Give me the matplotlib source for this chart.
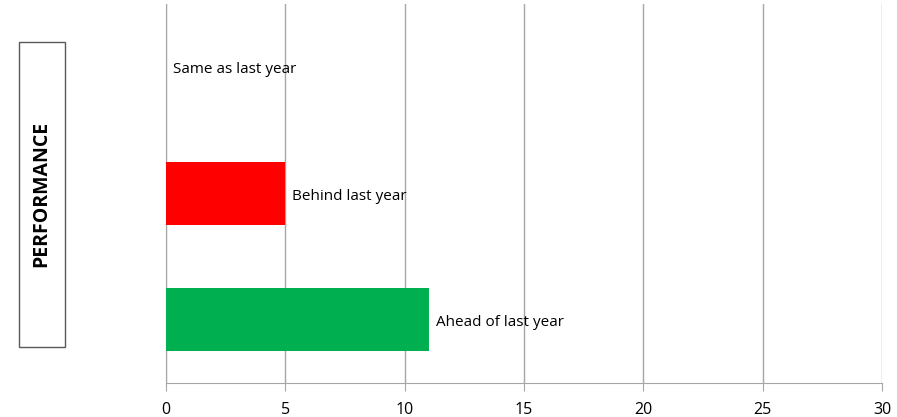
import matplotlib.pyplot as plt
from matplotlib.patches import Rectangle

categories = ['Ahead of last year', 'Behind last year', 'Same as last year']
values = [11, 5, 0]
colors = ['#00B050', '#FF0000', '#FFFFFF']
xticks = [0, 5, 10, 15, 20, 25, 30]

plt.rcParams['font.family'] = ['Open Sans', 'DejaVu Sans']

fig = plt.figure(figsize=(8.97, 4.17), dpi=100)
ax = fig.add_axes([166 / 897, 1 - 383 / 417, (882 - 166) / 897, (383 - 4) / 417])

ypos = list(range(len(categories)))
ax.barh(ypos, values, height=0.5, color=colors, zorder=3)
for y, v, name in zip(ypos, values, categories):
    ax.text(v + 0.3, y - 0.02, name, va='center', ha='left', fontsize=11, color='black', zorder=4)

ax.set_xlim(0, 30)
ax.set_ylim(-0.5, 2.5)
ax.set_xticks(xticks)
ax.set_yticks([])
ax.grid(axis='x', color='#A6A6A6', linewidth=1, zorder=0)
ax.tick_params(axis='x', length=6, color='#A6A6A6', labelsize=11.5, pad=8)
for s in ['top', 'right']:
    ax.spines[s].set_visible(False)
ax.spines['left'].set_color('#A6A6A6')
ax.spines['bottom'].set_color('#A6A6A6')

# boxed axis title
fig.patches.append(Rectangle((19 / 897, 1 - 347 / 417), 46 / 897, 305 / 417,
                             transform=fig.transFigure, fill=False,
                             edgecolor='#595959', linewidth=1))
fig.text(41 / 897, 1 - 194 / 417, 'PERFORMANCE', rotation=90, ha='center', va='center',
         fontsize=14, fontweight='bold')

fig.savefig('out.png', dpi=100)
